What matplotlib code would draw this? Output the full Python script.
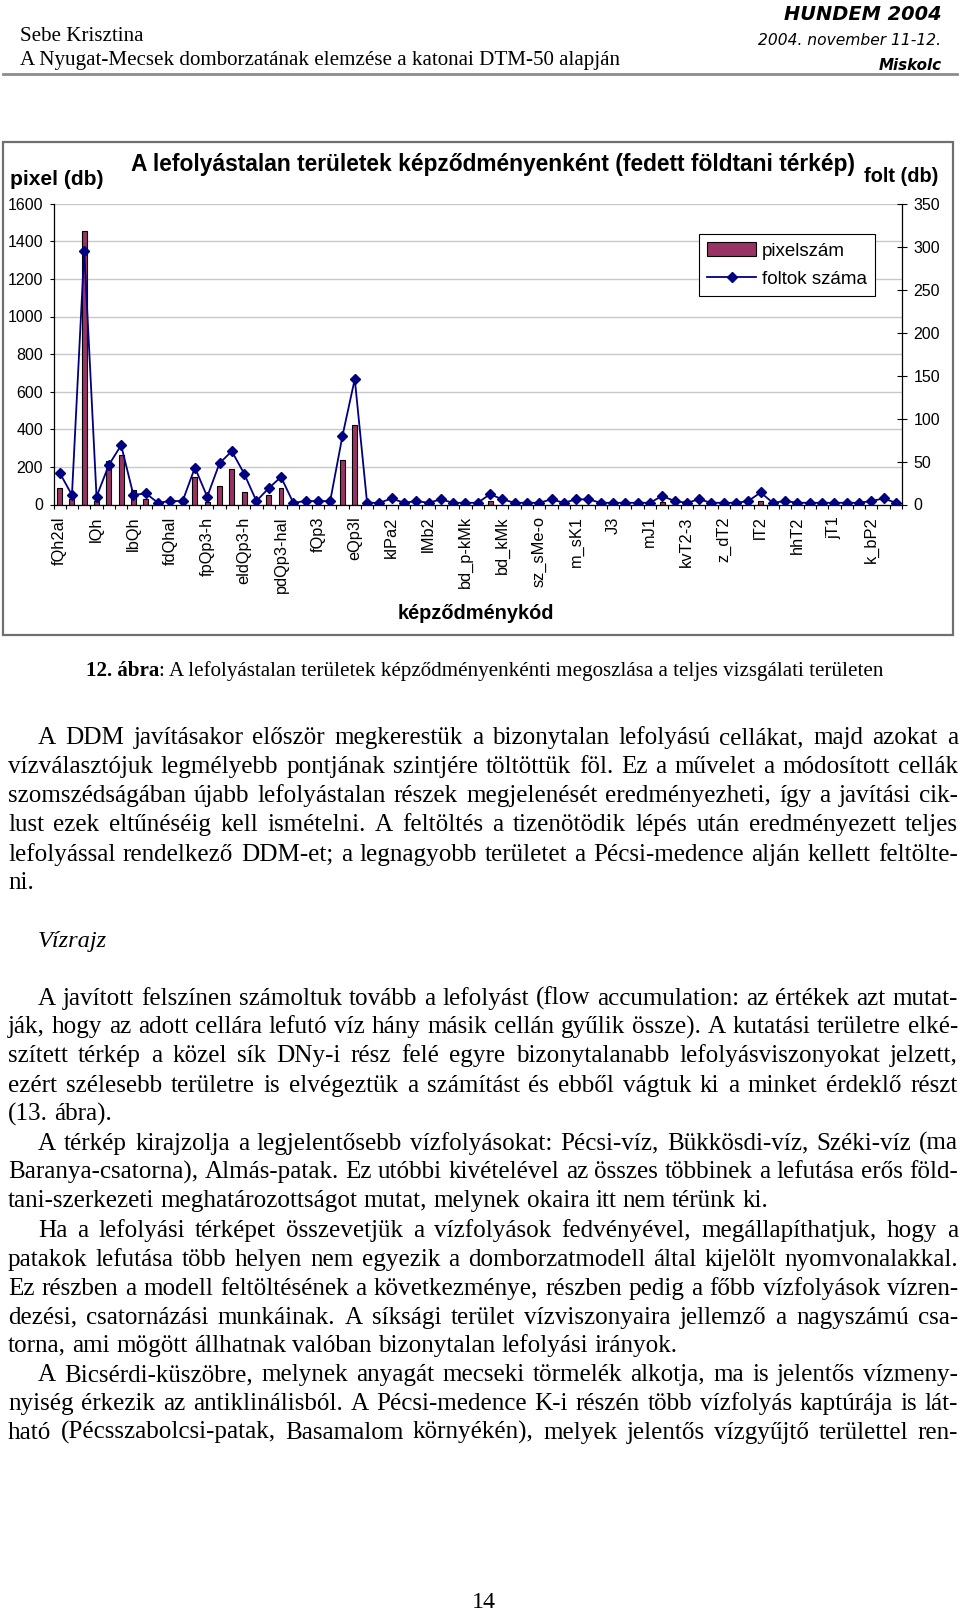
import matplotlib
matplotlib.use('Agg')
import matplotlib.pyplot as plt
from matplotlib.patches import Rectangle, Patch
from matplotlib.lines import Line2D

W, H, DPI = 960, 1613, 100
SERIF = 'Liberation Serif'
SANS = 'Liberation Sans'

# ---------------- data ----------------
tick_labels = ["fQh2al", "lQh", "lbQh", "fdQhal", "fpQp3-h", "eldQp3-h", "pdQp3-hal",
               "fQp3", "eQp3l", "klPa2", "lMb2", "bd_p-kMk", "bd_kMk", "sz_sMe-o",
               "m_sK1", "J3", "mJ1", "kvT2-3", "z_dT2", "lT2", "hhT2", "jT1", "k_bP2"]
label_step = 3
pixel_count = [89, 27, 1454, 20, 234, 262, 78, 27, 0, 0, 0, 148, 15, 99, 187, 67, 0, 51, 89,
               0, 0, 0, 0, 236, 424,
               0, 0, 0, 0, 0, 0, 0, 0, 0, 0, 18, 0, 0, 0, 0, 0, 0, 0, 0, 0, 0, 0, 0, 0,
               15, 0, 0, 0, 0, 0, 0, 0, 20, 0, 0, 0, 0, 0, 0, 0, 0, 0, 0, 0]
spot_count = [37, 11, 295, 9, 46, 69, 11, 13, 2, 4, 4, 43, 9, 48, 62, 36, 4, 19, 32,
              2, 4, 4, 4, 80, 146,
              2, 2, 7, 2, 4, 2, 6, 2, 2, 2, 12, 6, 2, 2, 2, 6, 2, 6, 6, 2, 2, 2, 2, 2,
              10, 4, 2, 6, 2, 2, 2, 4, 14, 2, 4, 2, 2, 2, 2, 2, 2, 4, 7, 2]
series_names = ["pixelszám", "foltok száma"]
left_ticks = [0, 200, 400, 600, 800, 1000, 1200, 1400, 1600]
right_ticks = [0, 50, 100, 150, 200, 250, 300, 350]

header_left = ["Sebe Krisztina",
               "A Nyugat-Mecsek domborzatának elemzése a katonai DTM-50 alapján"]
header_right = ["HUNDEM 2004", "2004. november 11-12.", "Miskolc"]
chart_title = "A lefolyástalan területek képződményenként (fedett földtani térkép)"
caption_bold = "12. ábra"
caption_rest = ": A lefolyástalan területek képződményenkénti megoszlása a teljes vizsgálati területen"

paragraphs1 = [
    "A DDM javításakor először megkerestük a bizonytalan lefolyású cellákat, majd azokat a",
    "vízválasztójuk legmélyebb pontjának szintjére töltöttük föl. Ez a művelet a módosított cellák",
    "szomszédságában újabb lefolyástalan részek megjelenését eredményezheti, így a javítási cik-",
    "lust ezek eltűnéséig kell ismételni. A feltöltés a tizenötödik lépés után eredményezett teljes",
    "lefolyással rendelkező DDM-et; a legnagyobb területet a Pécsi-medence alján kellett feltölte-",
    "ni."]
paragraphs2 = [
    "A javított felszínen számoltuk tovább a lefolyást (flow accumulation: az értékek azt mutat-",
    "ják, hogy az adott cellára lefutó víz hány másik cellán gyűlik össze). A kutatási területre elké-",
    "szített térkép a közel sík DNy-i rész felé egyre bizonytalanabb lefolyásviszonyokat jelzett,",
    "ezért szélesebb területre is elvégeztük a számítást és ebből vágtuk ki a minket érdeklő részt",
    "(13. ábra)."]
paragraphs3 = [
    "A térkép kirajzolja a legjelentősebb vízfolyásokat: Pécsi-víz, Bükkösdi-víz, Széki-víz (ma",
    "Baranya-csatorna), Almás-patak. Ez utóbbi kivételével az összes többinek a lefutása erős föld-",
    "tani-szerkezeti meghatározottságot mutat, melynek okaira itt nem térünk ki."]
paragraphs4 = [
    "Ha a lefolyási térképet összevetjük a vízfolyások fedvényével, megállapíthatjuk, hogy a",
    "patakok lefutása több helyen nem egyezik a domborzatmodell által kijelölt nyomvonalakkal.",
    "Ez részben a modell feltöltésének a következménye, részben pedig a főbb vízfolyások vízren-",
    "dezési, csatornázási munkáinak. A síksági terület vízviszonyaira jellemző a nagyszámú csa-",
    "torna, ami mögött állhatnak valóban bizonytalan lefolyási irányok."]
paragraphs5 = [
    "A Bicsérdi-küszöbre, melynek anyagát mecseki törmelék alkotja, ma is jelentős vízmeny-",
    "nyiség érkezik az antiklinálisból. A Pécsi-medence K-i részén több vízfolyás kaptúrája is lát-",
    "ható (Pécsszabolcsi-patak, Basamalom környékén), melyek jelentős vízgyűjtő területtel ren-"]
subheading = "Vízrajz"
page_number = "14"

# ---------------- figure ----------------
fig = plt.figure(figsize=(W / DPI, H / DPI), dpi=DPI)
fig.patch.set_facecolor('white')
renderer = fig.canvas.get_renderer()


def fx(x):
    return x / W


def fy(y):
    return 1 - y / H


def text_width(t):
    return t.get_window_extent(renderer).width


def fit_text(s, x, yc, width, ha='left', family=SERIF, weight='normal', style='normal',
             base_frac=0.33):
    t = fig.text(0, 0, s, fontsize=12, family=family, weight=weight, style=style,
                 ha=ha, va='baseline')
    w = text_width(t)
    fs = 12 * width / w
    t.set_fontsize(fs)
    fs_px = fs / 72 * DPI
    t.set_position((fx(x), fy(yc + base_frac * fs_px)))
    return t, fs


# header
fit_text(header_left[0], 20.5, 34, 123)
fit_text(header_left[1], 20.5, 57.6, 597)
fit_text(header_right[0], 941.5, 13, 157, ha='right', family='DejaVu Sans', style='italic',
         weight='bold', base_frac=0.36)
fit_text(header_right[1], 941.5, 40, 183, ha='right', family='DejaVu Sans', style='italic')
fit_text(header_right[2], 941.5, 65, 63, ha='right', family='DejaVu Sans', style='italic',
         weight='bold')
fig.add_artist(Line2D([fx(3), fx(957)], [fy(74), fy(74)], color='#8c8c8c', lw=2))

# chart frame
fig.add_artist(Rectangle((fx(3), fy(635)), fx(950), (635 - 142) / H, fill=False,
                         edgecolor='#6f6f6f', lw=1.6, transform=fig.transFigure))

# axes
x0p, x1p, y0p, y1p = 53.5, 902.0, 203.7, 504.5
ax = fig.add_axes([fx(x0p), fy(y1p), (x1p - x0p) / W, (y1p - y0p) / H])
ax2 = ax.twinx()
n = len(spot_count)
xs = list(range(n))

ax.bar(xs, pixel_count, width=0.4, color='#993366', edgecolor='black', lw=0.8, zorder=2)
ax2.plot(xs, spot_count, color='#000080', lw=1.3, marker='D', ms=4.8,
         markerfacecolor='#000080', markeredgecolor='#000080', zorder=3)

ax.set_xlim(-0.5, n - 0.5)
ax.set_ylim(0, 1600)
ax2.set_ylim(0, 350)
ax.set_yticks(left_ticks)
ax2.set_yticks(right_ticks)
ax.yaxis.grid(True, color='#c8c8c8', lw=1.0)
ax.set_axisbelow(True)

major_pos = list(range(0, n, label_step))[:len(tick_labels)]
ax.set_xticks(major_pos)
ax.set_xticklabels(tick_labels, rotation=90, fontsize=11.8, family=SANS)
ax.set_xticks([i - 0.5 for i in range(n + 1)], minor=True)
ax.tick_params(axis='x', which='major', length=0, pad=8.5)
ax.tick_params(axis='x', which='minor', length=3.2, width=0.8, direction='out', color='black')
ax.tick_params(axis='y', which='major', length=3.0, width=0.8, direction='out', pad=4.5,
               labelsize=11.5)
ax2.tick_params(axis='y', which='major', length=7.2, width=0.8, direction='inout', pad=4.5,
                labelsize=11.5)
for lab in ax.get_yticklabels() + ax2.get_yticklabels():
    lab.set_family(SANS)

for sp in ['top', 'right']:
    ax.spines[sp].set_visible(False)
for sp in ['top', 'left', 'bottom']:
    ax2.spines[sp].set_visible(False)
for sp in [ax.spines['left'], ax.spines['bottom'], ax2.spines['right']]:
    sp.set_color('black')
    sp.set_linewidth(0.9)

handles = [Patch(facecolor='#993366', edgecolor='black', lw=0.8),
           Line2D([], [], color='#000080', lw=1.3, marker='D', ms=4.8)]
leg = ax2.legend(handles, series_names, loc='upper left',
                 bbox_to_anchor=(fx(699), fy(234)), bbox_transform=fig.transFigure,
                 frameon=True, fancybox=False, framealpha=1, edgecolor='black',
                 prop={'family': SANS, 'size': 13.5}, handlelength=2.6, handleheight=0.7,
                 handletextpad=0.3, borderpad=0.45, labelspacing=0.6, borderaxespad=0)
leg.get_frame().set_linewidth(0.8)

# chart texts
fit_text(chart_title, 492.5, 162.6, 721, ha='center', family=SANS, weight='bold', base_frac=0.36)
fit_text("pixel (db)", 10, 177, 93, family=SANS, weight='bold', base_frac=0.36)
fit_text("folt (db)", 864, 175, 74, family=SANS, weight='bold', base_frac=0.36)
fit_text("képződménykód", 476, 612, 156, ha='center', family=SANS, weight='bold',
         base_frac=0.36)

# caption
tb = fig.text(0, 0, caption_bold, fontsize=12, family=SERIF, weight='bold', va='baseline')
tr = fig.text(0, 0, caption_rest, fontsize=12, family=SERIF, va='baseline')
wsum = text_width(tb) + text_width(tr)
cfs = 12 * (881 - 86) / wsum
tb.set_fontsize(cfs)
tr.set_fontsize(cfs)
wb = text_width(tb)
cbase = 669 + 0.33 * cfs / 72 * DPI
tb.set_position((fx(86), fy(cbase)))
tr.set_position((fx(86 + wb), fy(cbase)))

# body font size calibration: natural-width line
probe = fig.text(0, 0, paragraphs3[2], fontsize=18, family=SERIF)
BFS = 18 * 759 / text_width(probe)
probe.remove()
bfs_px = BFS / 72 * DPI
sp1 = fig.text(0, 0, "a a", fontsize=BFS, family=SERIF)
sp2 = fig.text(0, 0, "aa", fontsize=BFS, family=SERIF)
SPACE = text_width(sp1) - text_width(sp2)
sp1.remove()
sp2.remove()

LEFT, RIGHT, INDENT = 8.0, 958.0, 38.0


def place_line(s, xstart, ycenter, justify):
    words = s.split(' ')
    base = ycenter + 0.3 * bfs_px
    objs = [fig.text(0, 0, w, fontsize=BFS, family=SERIF, ha='left', va='baseline')
            for w in words]
    widths = [text_width(o) for o in objs]
    if justify and len(words) > 1:
        gap = (RIGHT - xstart - sum(widths)) / (len(words) - 1)
    else:
        gap = SPACE
    x = xstart
    for o, w in zip(objs, widths):
        o.set_position((fx(x), fy(base)))
        x += w + gap


def place_paragraph(lines, ycenters, ends_paragraph=True):
    for i, (s, y) in enumerate(zip(lines, ycenters)):
        xstart = INDENT if i == 0 else LEFT
        last = (i == len(lines) - 1) and ends_paragraph
        place_line(s, xstart, y, not last)


place_paragraph(paragraphs1, [736.7, 765.5, 794.3, 823.1, 853.0, 881.8])
fit_text(subheading, 38, 939.4, 69, style='italic', base_frac=0.3)
place_paragraph(paragraphs2, [997.0, 1025.8, 1054.6, 1084.5, 1113.3])
place_paragraph(paragraphs3, [1142.1, 1170.9, 1199.7])
place_paragraph(paragraphs4, [1229.5, 1258.3, 1287.2, 1316.0, 1344.8])
place_paragraph(paragraphs5, [1373.6, 1402.4, 1431.2], ends_paragraph=False)

fit_text(page_number, 483.5, 1600, 24, ha='center', base_frac=0.33)

fig.savefig('out.png', dpi=DPI, facecolor='white')
